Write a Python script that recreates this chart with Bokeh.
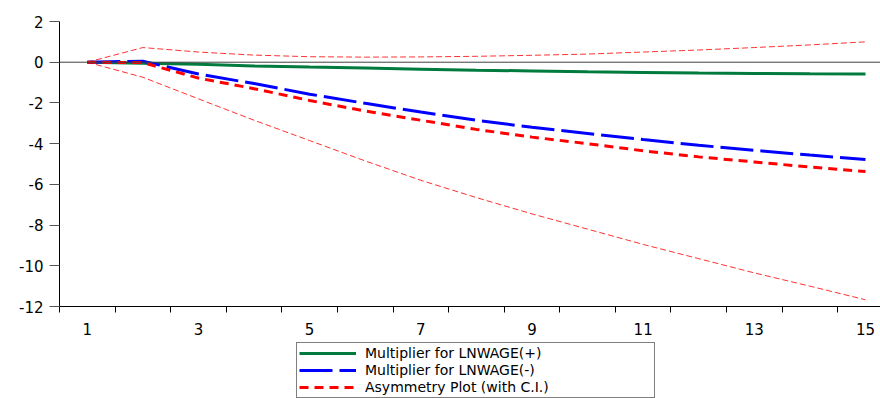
from bokeh.plotting import figure
from bokeh.layouts import column
from bokeh.models import FixedTicker, Span, Legend, LegendItem, Range1d
from bokeh.embed import file_html
from bokeh.resources import INLINE

periods = list(range(1, 16))
mult_pos = [0.0, -0.05, -0.10, -0.18, -0.24, -0.29, -0.34, -0.39, -0.43, -0.47, -0.50, -0.53, -0.55, -0.57, -0.58]
mult_neg = [0.0, 0.05, -0.58, -1.05, -1.57, -2.02, -2.45, -2.85, -3.20, -3.50, -3.80, -4.08, -4.33, -4.56, -4.78]
asym = [0.0, -0.02, -0.78, -1.30, -1.88, -2.40, -2.85, -3.30, -3.68, -4.00, -4.35, -4.65, -4.90, -5.15, -5.37]
ci_upper = [0.0, 0.72, 0.50, 0.35, 0.27, 0.25, 0.26, 0.29, 0.34, 0.40, 0.50, 0.60, 0.72, 0.85, 1.00]
ci_lower = [0.0, -0.74, -1.80, -2.85, -3.85, -4.85, -5.80, -6.65, -7.45, -8.20, -8.95, -9.65, -10.35, -11.00, -11.67]

y_ticks = [2, 0, -2, -4, -6, -8, -10, -12]
x_label_ticks = [1, 3, 5, 7, 9, 11, 13, 15]
x_minor_ticks = [i + 0.5 for i in range(0, 16)]

labels = ["Multiplier for LNWAGE(+)", "Multiplier for LNWAGE(-)", "Asymmetry Plot (with C.I.)"]

FONT = "DejaVu Sans"

GREEN = dict(line_color="#007A3D", line_width=3)
BLUE = dict(line_color="#0000FF", line_width=3, line_dash="33 7")
RED = dict(line_color="#FF0000", line_width=3, line_dash="9 6")
CI = dict(line_color="#FF3333", line_width=1, line_dash="6 3")

p = figure(width=880, height=340, x_range=Range1d(0.5, 15.27), y_range=Range1d(-12, 2),
           output_backend="svg", toolbar_location=None,
           min_border_left=59, min_border_right=0, min_border_top=21, min_border_bottom=34)
p.outline_line_color = None
p.grid.visible = False

zero = Span(location=0, dimension="width", line_color="#404040", line_width=1)
p.add_layout(zero)

p.line(periods, ci_upper, **CI)
p.line(periods, ci_lower, **CI)
p.line(periods, mult_pos, **GREEN)
p.line(periods, mult_neg, **BLUE)
p.line(periods, asym, **RED)

xa = p.xaxis[0]
xa.ticker = FixedTicker(ticks=x_label_ticks, minor_ticks=x_minor_ticks)
xa.major_tick_out = 0
xa.major_tick_in = 0
xa.minor_tick_out = 6
xa.minor_tick_in = 0
xa.minor_tick_line_color = "black"
xa.axis_line_color = "black"
xa.major_label_standoff = 10
xa.major_label_text_font = FONT
xa.major_label_text_font_size = "15px"
xa.major_label_text_color = "black"

ya = p.yaxis[0]
ya.ticker = FixedTicker(ticks=y_ticks)
ya.major_label_overrides = {t: str(t) for t in y_ticks}
ya.major_tick_out = 10
ya.major_tick_in = 0
ya.minor_tick_out = 0
ya.minor_tick_in = 0
ya.major_tick_line_color = "#555555"
ya.axis_line_color = "black"
ya.major_label_standoff = 6
ya.major_label_text_font = FONT
ya.major_label_text_font_size = "15px"
ya.major_label_text_color = "black"

# legend panel below the chart (its series lie outside its visible range)
lg = figure(width=880, height=58, x_range=Range1d(100, 101), y_range=Range1d(100, 101),
            output_backend="svg", toolbar_location=None,
            x_axis_location=None, y_axis_location=None,
            min_border_left=0, min_border_right=0, min_border_top=0, min_border_bottom=0)
lg.outline_line_color = None
lg.grid.visible = False
k_pos = lg.line(periods, mult_pos, **GREEN)
k_neg = lg.line(periods, mult_neg, **BLUE)
k_asym = lg.line(periods, asym, **RED)

legend = Legend(items=[LegendItem(label=labels[0], renderers=[k_pos]),
                       LegendItem(label=labels[1], renderers=[k_neg]),
                       LegendItem(label=labels[2], renderers=[k_asym])],
                location=(237, 0), orientation="vertical")
legend.label_text_font = FONT
legend.label_text_font_size = "14px"
legend.label_text_color = "black"
legend.label_height = 16
legend.glyph_height = 16
legend.glyph_width = 57
legend.label_standoff = 9
legend.label_width = 287
legend.padding = 2
legend.spacing = 1
legend.margin = 0
legend.border_line_color = "black"
legend.border_line_width = 1
legend.background_fill_color = "white"
lg.add_layout(legend, "center")

layout = column(p, lg, spacing=0)
open("out.html", "w").write(file_html(layout, INLINE))
